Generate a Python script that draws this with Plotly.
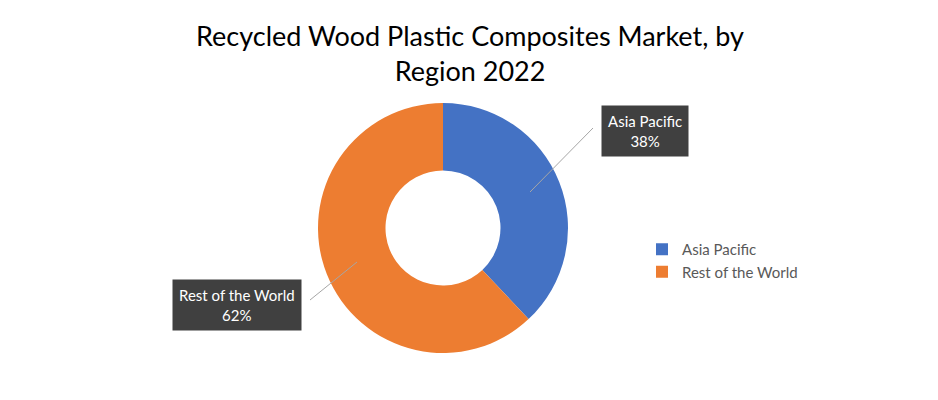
import plotly.graph_objects as go

W, H = 938, 400
OFF = 8  # page body margin
labels = ["Asia Pacific", "Rest of the World"]
values = [38, 62]
colors = ["#4472C4", "#ED7D31"]

def px(x, y):
    return (x - OFF) / W, 1 - (y - OFF) / H

cx, cy, R = 443, 228, 125
fig = go.Figure(go.Pie(
    labels=labels, values=values, hole=0.46, sort=False, direction="clockwise",
    rotation=0, marker=dict(colors=colors, line=dict(color="white", width=0)),
    textinfo="none", hoverinfo="label+percent",
    domain=dict(x=[px(cx-R, 0)[0], px(cx+R, 0)[0]], y=[px(0, cy+R)[1], px(0, cy-R)[1]]),
))

for (x0, y0), (x1, y1) in [((530, 192), (593, 128)), ((357, 262), (310, 300))]:
    a, b = px(x0, y0); c, d = px(x1, y1)
    fig.add_shape(type="line", xref="paper", yref="paper", x0=a, y0=b, x1=c, y1=d,
                  line=dict(color="#A6A6A6", width=1))

for (x, y), lab, v in [((645, 131), labels[0], values[0]), ((237, 305), labels[1], values[1])]:
    a, b = px(x, y)
    fig.add_annotation(xref="paper", yref="paper", x=a, y=b, showarrow=False,
                       xanchor="center", yanchor="middle",
                       text=f"{lab}<br>{v}%", font=dict(family="Lato", size=15, color="white"),
                       bgcolor="#404040", borderpad=6, align="center")

fig.update_layout(
    width=W, height=H, margin=dict(l=0, r=0, t=0, b=0),
    paper_bgcolor="white", plot_bgcolor="white",
    title=dict(text="Recycled Wood Plastic Composites Market, by<br>Region 2022",
               x=px(470, 0)[0], xanchor="center", y=0.905, yanchor="top",
               font=dict(family="Lato", size=27, color="#000")),
    legend=dict(x=px(642, 0)[0], y=px(0, 233)[1], xanchor="left", yanchor="top",
                font=dict(family="Lato", size=15, color="#595959"), tracegroupgap=8),
    font=dict(family="Lato"),
)
fig.write_html("out.html")
